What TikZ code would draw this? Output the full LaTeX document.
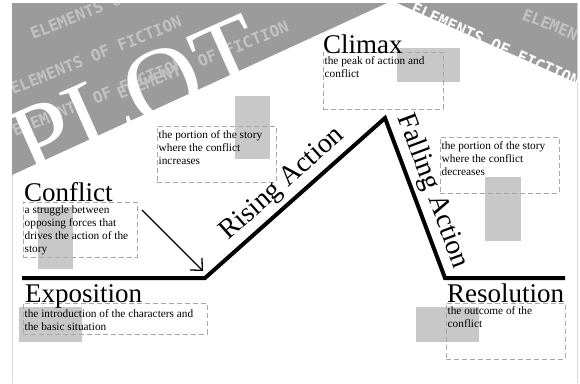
\documentclass[tikz,border=0pt]{standalone}
\usepackage{fontspec}
\setmainfont{Liberation Serif}
\newfontfamily\bandfont{DejaVu Sans Mono}
\usetikzlibrary{arrows.meta}
\definecolor{bandgray}{HTML}{9B9B9B}
\definecolor{wordgray}{HTML}{C2C2C2}
\definecolor{patchgray}{HTML}{C8C8C8}
\definecolor{boxgray}{HTML}{A8A8A8}
\definecolor{edgegray}{HTML}{D8D8D8}
\tikzset{
  heading/.style={font=\fontsize{27}{27}\selectfont, inner sep=0pt, anchor=base west},
  desc/.style={font=\fontsize{11.3}{13}\selectfont, align=left, inner sep=0pt, anchor=north west},
  descbox/.style={draw=boxgray, dash pattern=on 5pt off 3pt, line width=0.8pt, inner sep=0pt, outer sep=0pt, anchor=north west},
  patch/.style={fill=patchgray},
  plotline/.style={line width=4pt, line join=miter},
  arclabel/.style={font=\fontsize{28}{28}\selectfont, sloped, above, inner sep=4pt},
  bandword/.style={font=\bandfont\bfseries\fontsize{16}{16}\selectfont, text=wordgray, anchor=base west, inner sep=0pt},
  pointer/.style={-{Straight Barb[length=9pt,width=17pt]}, line width=1.3pt},
}

\begin{document}
\begin{tikzpicture}[x=1pt, y=-1pt]
    \useasboundingbox (0,0) rectangle (580,383);
    \draw[edgegray, line width=0.8pt] (12,3) -- (12,383) (577,3) -- (577,383);
    \fill[bandgray] (12,3) -- (387,3) -- (12,175) -- cycle;
    \fill[bandgray] (397,3) -- (577,3) -- (577,83) -- cycle;
    \begin{scope}
        \clip (12,3) -- (387,3) -- (12,175) -- cycle;
        \node[bandword, rotate=22] (wordsa) at (33,40) {ELEMENTS OF FICTION};
        \node[bandword, rotate=22] (wordsb) at (13,95) {ELEMENTS OF FICTION};
        \node[bandword, rotate=22] (wordsc) at (15,137) {ELEMENTS OF FICTION};
        \node[bandword, rotate=22] (wordsd) at (120,100) {ELEMENTS OF FICTION};
    \end{scope}
    \begin{scope}
        \clip (397,3) -- (577,3) -- (577,83) -- cycle;
        \node[bandword, rotate=-22] (wordse) at (521,19) {ELEMENTS};
    \end{scope}
    \node[bandword, text=white, rotate=-24.5] (wordsf) at (410,12) {ELEMENTS OF FICTION};
    \node[text=white, font=\fontsize{105}{105}\selectfont, rotate=24] (plot) at (137,97) {PLOT};

    \foreach \xa/\ya/\xb/\yb in {397/48/460/82, 235/96/270/159, 485/177/521/241, 38/207/73/269, 19/307/82/342, 416/307/479/342}
        \fill[patch] (\xa,\ya) rectangle (\xb,\yb);

    \node[descbox, minimum width=120, minimum height=57] (climaxbox) at (323,52) {};
    \node[descbox, minimum width=119, minimum height=56] (risingbox) at (157,126) {};
    \node[descbox, minimum width=119, minimum height=56] (fallingbox) at (440,137) {};
    \node[descbox, minimum width=114, minimum height=55] (conflictbox) at (23,202) {};
    \node[descbox, minimum width=184, minimum height=31] (expositionbox) at (23,303) {};
    \node[descbox, minimum width=119, minimum height=56] (resolutionbox) at (446,303) {};

    \node[desc] (climaxtext) at ([shift={(1.5,4)}]climaxbox.north west) {the peak of action and\\conflict};
    \node[desc] (risingtext) at ([shift={(1.5,4)}]risingbox.north west) {the portion of the story\\where the conflict\\increases};
    \node[desc] (fallingtext) at ([shift={(1.5,4)}]fallingbox.north west) {the portion of the story\\where the conflict\\decreases};
    \node[desc] (conflicttext) at ([shift={(1.5,3.5)}]conflictbox.north west) {a struggle between\\opposing forces that\\drives the action of the\\story};
    \node[desc] (expositiontext) at ([shift={(1.5,6)}]expositionbox.north west) {the introduction of the characters and\\the basic situation};
    \node[desc] (resolutiontext) at ([shift={(1.5,3)}]resolutionbox.north west) {the outcome of the\\conflict};

    \node[heading] (climax) at (323,53) {Climax};
    \node[heading] (conflict) at (24,201) {Conflict};
    \node[heading] (exposition) at (25,302) {Exposition};
    \node[heading] (resolution) at (447,302) {Resolution};

    \coordinate (start) at (22,278);
    \coordinate (rise) at (205,278);
    \coordinate (peak) at (385,118);
    \coordinate (fall) at (445,278);
    \coordinate (finish) at (565,278);
    \draw[plotline] (start) -- (rise) -- node[arclabel] (risinglabel) {Rising Action} (peak) -- node[arclabel] (fallinglabel) {Falling Action} (fall) -- (finish);

    \coordinate (arrowfrom) at (142,210);
    \coordinate (arrowto) at (203,271);
    \draw[pointer] (arrowfrom) -- (arrowto);
\end{tikzpicture}
\end{document}
